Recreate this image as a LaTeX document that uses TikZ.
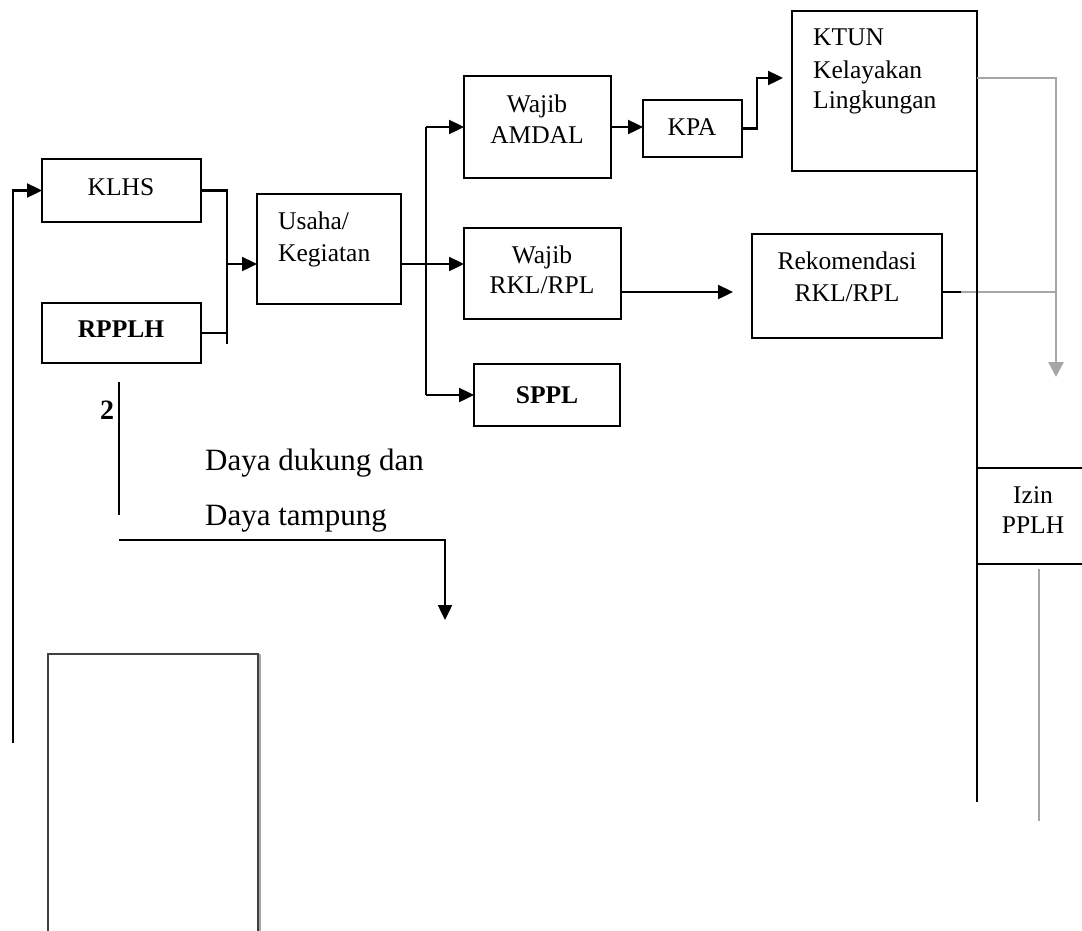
\documentclass[tikz,border=0pt]{standalone}
\usepackage{fontspec}
\setmainfont{Liberation Serif}
\usetikzlibrary{arrows.meta}
\definecolor{lgray}{HTML}{A6A6A6}
\definecolor{dgray}{HTML}{404040}
\begin{document}
\begin{tikzpicture}[x=1pt,y=-1pt,
 box/.style={draw=black, line width=2.2pt, inner sep=0pt, outer sep=0pt, anchor=north west},
 txt/.style={font=\fontsize{25.5}{32}\selectfont, inner sep=0pt, anchor=base},
 txtl/.style={txt, anchor=base west},
 btxt/.style={txt, font=\fontsize{25.5}{32}\selectfont\bfseries},
 big/.style={font=\fontsize{31}{38}\selectfont, inner sep=0pt, anchor=base west},
 ln/.style={line width=2.4pt},
 gln/.style={line width=2.4pt, draw=lgray},
 arr/.style={ln, -{Triangle[length=15pt,width=14pt]}},
 garr/.style={gln, -{Triangle[length=15pt,width=15pt]}},
]
\useasboundingbox (0,0) rectangle (1082,930);

% boxes
\node[box, minimum width=159pt, minimum height=63pt] (klhs) at (42,159) {};
\node[box, minimum width=159pt, minimum height=60pt] (rpplh) at (42,303) {};
\node[box, minimum width=144pt, minimum height=110pt] (usaha) at (257,194) {};
\node[box, minimum width=147pt, minimum height=102pt] (amdal) at (464,76) {};
\node[box, minimum width=99pt, minimum height=57pt] (kpa) at (643,100) {};
\node[box, minimum width=185pt, minimum height=160pt] (ktun) at (792,11) {};
\node[box, minimum width=157pt, minimum height=91pt] (rkl) at (464,228) {};
\node[box, minimum width=146pt, minimum height=62pt] (sppl) at (474,364) {};
\node[box, minimum width=190pt, minimum height=104pt] (rek) at (752,234) {};
\node[box, minimum width=112pt, minimum height=96pt] (izin) at (977,468) {};
\node[box, draw=dgray, line width=1.5pt, minimum width=210pt, minimum height=300pt] (empty) at (48,654) {};
\draw[lgray, line width=1.5pt] ([xshift=2pt]empty.north east) -- ([xshift=2pt]empty.south east);

% texts
\node[txt] (tklhs) at (121,195) {KLHS};
\node[btxt] (trpplh) at (121,337) {RPPLH};
\node[txtl] (tusaha1) at (278,229) {Usaha/};
\node[txtl] (tusaha2) at (278,261) {Kegiatan};
\node[txt] (tamdal1) at (537,112) {Wajib};
\node[txt] (tamdal2) at (537,143) {AMDAL};
\node[txt] (tkpa) at (692,135) {KPA};
\node[txtl] (tktun1) at (813,45) {KTUN};
\node[txtl] (tktun2) at (813,78) {Kelayakan};
\node[txtl] (tktun3) at (813,108) {Lingkungan};
\node[txt] (trkl1) at (542,263) {Wajib};
\node[txt] (trkl2) at (542,293) {RKL/RPL};
\node[btxt] (tsppl) at (547,403) {SPPL};
\node[txt] (trek1) at (847,269) {Rekomendasi};
\node[txt] (trek2) at (847,301) {RKL/RPL};
\node[txt] (tizin1) at (1033,503) {Izin};
\node[txt] (tizin2) at (1033,533) {PPLH};
\node[btxt, font=\fontsize{28}{32}\selectfont\bfseries] (ttwo) at (107,419) {2};
\node[big] (tdaya1) at (205,470) {Daya dukung dan};
\node[big] (tdaya2) at (205,525) {Daya tampung};

% coordinates
\coordinate (lb) at (13,743);
\coordinate (jbot) at (227,344);
\coordinate (bt) at (426,127);
\coordinate (bb) at (426,395);
\coordinate (kk) at (757,78);
\coordinate (ra) at (733,292);
\coordinate (g1) at (1056,78);
\coordinate (g2) at (1056,292);
\coordinate (gend) at (1056,377);
\coordinate (kb) at (977,802);
\coordinate (gi1) at (1039,569);
\coordinate (gi2) at (1039,821);
\coordinate (v1) at (119,382);
\coordinate (v2) at (119,515);
\coordinate (d1) at (119,540);
\coordinate (d2) at (445,540);
\coordinate (d3) at (445,620);

% connectors
\draw[arr] (lb) |- (klhs.west);
\draw[ln] (klhs.east) -- (klhs.east -| jbot) -- (jbot);
\draw[ln] (rpplh.east) -- (rpplh.east -| jbot);
\draw[arr] ([yshift=-15pt]usaha.west -| jbot) -- ([yshift=-15pt]usaha.west);
\draw[ln] (bt) -- (bb);
\draw[arr] (bt) -- (amdal.west);
\draw[arr] (bb) -- (bb -| sppl.west);
\draw[arr] ([yshift=-15pt]usaha.east) -- ([yshift=9.5pt]rkl.west);
\draw[arr] (amdal.east) -- (amdal.east -| kpa.west);
\draw[arr] (kpa.east) -| (kk) -- ([xshift=-9pt]ktun.west |- kk);
\draw[arr] (rkl.east |- ra) -- (ra);
\draw[ln] (rek.east |- g2) -- ([xshift=19pt]rek.east |- g2);
\draw[gln] ([xshift=19pt]rek.east |- g2) -- (g2);
\draw[garr] (ktun.east |- g1) -- (g1) -- (gend);
\draw[ln] (ktun.south east) -- (ktun.south east |- kb);
\draw[gln] (gi1) -- (gi2);
\draw[ln] (v1) -- (v2);
\draw[arr] (d1) -- (d2) -- (d3);
\end{tikzpicture}
\end{document}
